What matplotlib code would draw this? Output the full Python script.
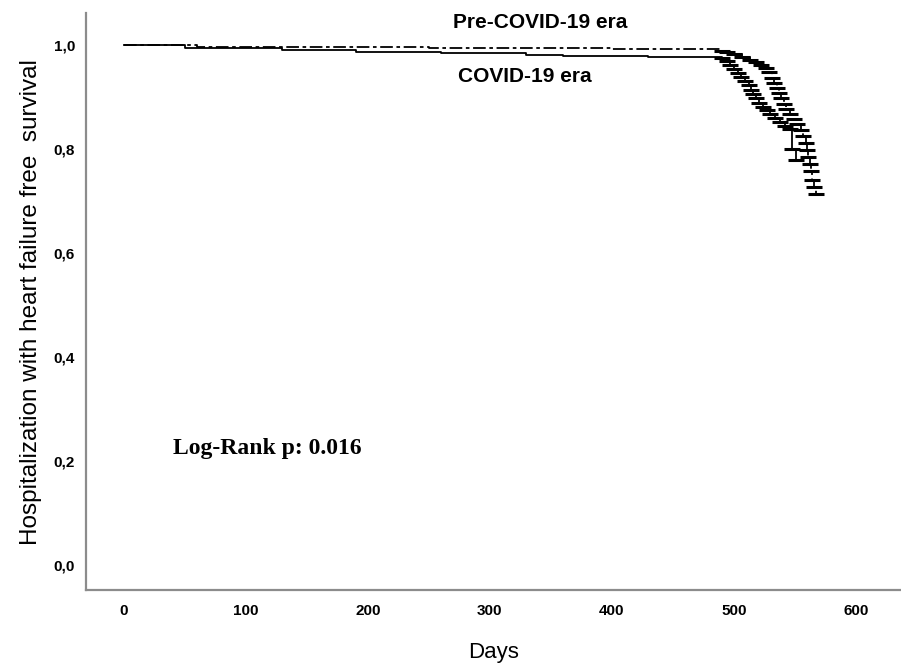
import numpy as np
import matplotlib
matplotlib.use("Agg")
from matplotlib import pyplot as plt

# Kaplan-Meier estimates (days, survival)
pre_days = [0, 60, 250, 400, 490, 494, 500, 507, 513, 518, 522, 526, 529, 531, 533,
            535, 537, 539, 541, 543, 546, 549, 552, 555, 557, 559, 560, 561, 562,
            563, 564, 566, 567]
pre_surv = [1.0, 0.998, 0.995, 0.993, 0.990, 0.988, 0.983, 0.978, 0.973, 0.968, 0.963,
            0.957, 0.948, 0.938, 0.928, 0.918, 0.908, 0.898, 0.888, 0.878, 0.868,
            0.858, 0.848, 0.838, 0.825, 0.812, 0.798, 0.785, 0.772, 0.758, 0.742,
            0.728, 0.715]

covid_days = [0, 50, 130, 190, 260, 330, 360, 430, 490, 494, 497, 500, 503, 506, 509,
              512, 514, 516, 518, 521, 524, 527, 530, 534, 538, 542, 546, 548, 551]
covid_surv = [1.0, 0.996, 0.992, 0.987, 0.985, 0.981, 0.979, 0.977, 0.975, 0.970,
              0.962, 0.955, 0.947, 0.940, 0.932, 0.924, 0.915, 0.906, 0.898, 0.890,
              0.882, 0.875, 0.868, 0.860, 0.852, 0.846, 0.840, 0.800, 0.780]

x_ticks = [0, 100, 200, 300, 400, 500, 600]
y_ticks = [0.0, 0.2, 0.4, 0.6, 0.8, 1.0]
y_labels = ["0,0", "0,2", "0,4", "0,6", "0,8", "1,0"]

fig = plt.figure(figsize=(9.01, 6.63), dpi=100)
ax = fig.add_axes([0.0955, 0.110, 0.9045, 0.870])

ax.step(pre_days, pre_surv, where="post", color="black", lw=1.3, dashes=(7, 2, 2, 2))
ax.step(covid_days, covid_surv, where="post", color="black", lw=1.3)

# censoring marks along the steep part
ax.plot(pre_days[4:], pre_surv[4:], ls="none", marker="_", ms=11, mew=2.2, color="black")
ax.plot(covid_days[8:], covid_surv[8:], ls="none", marker="_", ms=11, mew=2.2, color="black")

ax.set_xlim(-31, 637)
ax.set_ylim(-0.048, 1.062)
ax.set_xticks(x_ticks)
ax.set_yticks(y_ticks)
ax.set_yticklabels(y_labels)
ax.tick_params(axis="y", length=0, pad=8)
ax.tick_params(axis="x", length=0, pad=10)
for lab in ax.get_xticklabels() + ax.get_yticklabels():
    lab.set_family(["Liberation Sans Narrow", "Liberation Sans"])
    lab.set_fontweight("bold")
    lab.set_fontsize(11)

for side in ["top", "right"]:
    ax.spines[side].set_visible(False)
for side in ["left", "bottom"]:
    ax.spines[side].set_color("#8c8c8c")
    ax.spines[side].set_linewidth(1.6)

ax.set_xlabel("Days", fontsize=16, family="Liberation Sans", labelpad=17)
ax.set_ylabel("Hospitalization with heart failure free  survival", fontsize=17.5,
              family="Liberation Sans", labelpad=8)

ax.text(341, 1.045, "Pre-COVID-19 era", ha="center", va="center", fontsize=15,
        fontweight="bold", family="Liberation Sans")
ax.text(329, 0.94, "COVID-19 era", ha="center", va="center", fontsize=15,
        fontweight="bold", family="Liberation Sans")
ax.text(40, 0.225, "Log-Rank p: 0.016", ha="left", va="center", fontsize=17,
        fontweight="bold", family="Liberation Serif")

plt.savefig("out.png", dpi=100)
